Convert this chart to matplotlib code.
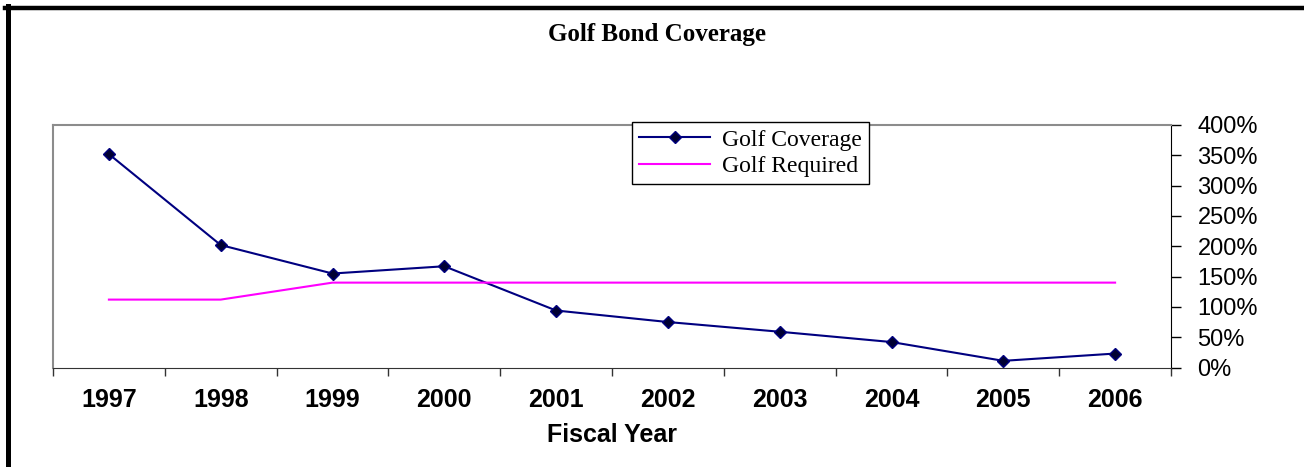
import matplotlib.pyplot as plt
from matplotlib.lines import Line2D
from matplotlib.ticker import FixedLocator, PercentFormatter

years = ['1997', '1998', '1999', '2000', '2001', '2002', '2003', '2004', '2005', '2006']
coverage = [352, 202, 155, 167, 94, 75, 59, 42, 11, 23]
required = [112, 112, 140, 140, 140, 140, 140, 140, 140, 140]
yticks = [0, 50, 100, 150, 200, 250, 300, 350, 400]

W, H = 1304, 467
fig = plt.figure(figsize=(W / 100, H / 100), dpi=100)
fig.patch.set_facecolor('white')

# plot area in pixels: x 53..1171, y 125..367
ax = fig.add_axes([53 / W, 1 - 367.5 / H, (1171 - 53) / W, (367.5 - 125) / H])

xs = list(range(len(years)))
ax.plot(xs, coverage, color='#000080', lw=1.5, marker='D', markersize=6.5,
        markerfacecolor='#000033', markeredgecolor='#000080', label='Golf Coverage')
ax.plot(xs, required, color='#FF00FF', lw=1.5, label='Golf Required')

ax.set_xlim(-0.5, len(years) - 0.5)
ax.set_ylim(0, 400)

ax.set_xticks(xs)
ax.set_xticklabels(years, fontfamily='Liberation Sans', fontweight='bold', fontsize=18)
ax.tick_params(axis='x', which='major', length=0, pad=15)
ax.xaxis.set_minor_locator(FixedLocator([i - 0.5 for i in range(len(years) + 1)]))
ax.tick_params(axis='x', which='minor', length=6, width=1, color='#333333', direction='out')

ax.yaxis.tick_right()
ax.set_yticks(yticks)
ax.yaxis.set_major_formatter(PercentFormatter(decimals=0))
ax.tick_params(axis='y', length=7, width=1, color='black', pad=12, labelsize=17)
for lab in ax.get_yticklabels():
    lab.set_fontfamily('Liberation Sans')

ax.spines['left'].set_color('#8c8c8c')
ax.spines['top'].set_color('#8c8c8c')
ax.spines['left'].set_linewidth(1.5)
ax.spines['top'].set_linewidth(1.5)
ax.spines['bottom'].set_color('#333333')
ax.spines['right'].set_color('black')

ax.set_xlabel('Fiscal Year', fontfamily='Liberation Sans', fontweight='bold', fontsize=18, labelpad=8)

fig.text(657 / W, 1 - 35 / H, 'Golf Bond Coverage', ha='center', va='center',
         fontfamily='Liberation Serif', fontweight='bold', fontsize=18)

leg = ax.legend(loc='upper left', bbox_to_anchor=(632 / W, 1 - 122 / H),
                bbox_transform=fig.transFigure, frameon=True, fancybox=False,
                edgecolor='black', framealpha=1, borderpad=0.3, labelspacing=0.2,
                handlelength=3.0, handletextpad=0.5, borderaxespad=0,
                prop={'family': 'Liberation Serif', 'size': 17})
leg.get_frame().set_linewidth(1)

# outer chart border (top and left visible)
fig.add_artist(Line2D([5 / W, 1], [1 - 8 / H, 1 - 8 / H], color='black', lw=3.2,
                      transform=fig.transFigure))
fig.add_artist(Line2D([7.5 / W, 7.5 / W], [0, 1 - 6 / H], color='black', lw=3.6,
                      transform=fig.transFigure))

fig.savefig('out.png', dpi=100)
